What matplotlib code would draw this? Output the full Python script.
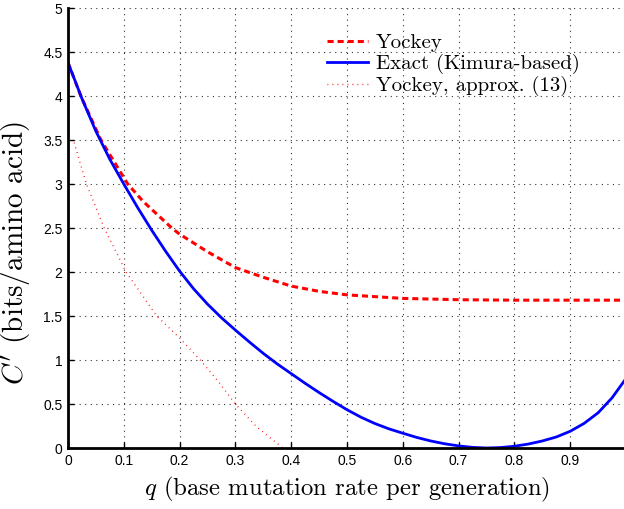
import matplotlib
matplotlib.use('Agg')
import matplotlib.pyplot as plt

plt.rcParams['mathtext.fontset'] = 'cm'
plt.rcParams['axes.unicode_minus'] = False

# values
q_exact = [0.0, 0.025, 0.05, 0.075, 0.1, 0.125, 0.15, 0.175, 0.2, 0.225, 0.25, 0.275,
           0.3, 0.325, 0.35, 0.375, 0.4, 0.425, 0.45, 0.475, 0.5, 0.525, 0.55, 0.575,
           0.6, 0.625, 0.65, 0.675, 0.7, 0.725, 0.75, 0.775, 0.8, 0.825, 0.85, 0.875,
           0.9, 0.925, 0.95, 0.975, 1.0]
c_exact = [4.38, 3.97, 3.60, 3.28, 3.0, 2.73, 2.475, 2.235, 2.01, 1.81, 1.635, 1.48,
           1.34, 1.205, 1.075, 0.955, 0.845, 0.735, 0.63, 0.53, 0.435, 0.35, 0.278, 0.218,
           0.168, 0.12, 0.08, 0.048, 0.024, 0.007, 0.0, 0.005, 0.02, 0.045, 0.08, 0.125,
           0.19, 0.28, 0.40, 0.57, 0.79]

q_yockey = [0.0, 0.023, 0.059, 0.107, 0.135, 0.186, 0.2, 0.25, 0.3, 0.35, 0.4,
            0.45, 0.5, 0.6, 0.7, 0.8, 0.9, 1.0]
c_yockey = [4.38, 4.0, 3.5, 3.0, 2.8, 2.5, 2.43, 2.23, 2.05, 1.94, 1.84,
            1.78, 1.74, 1.70, 1.685, 1.68, 1.68, 1.68]

q_approx = [0.011, 0.033, 0.065, 0.104, 0.159, 0.2, 0.237, 0.27, 0.3, 0.338, 0.385]
c_approx = [3.47, 3.0, 2.5, 2.0, 1.5, 1.25, 1.0, 0.75, 0.5, 0.24, 0.0]

xticks = [0, 0.1, 0.2, 0.3, 0.4, 0.5, 0.6, 0.7, 0.8, 0.9]
xticklabels = ['0', '0.1', '0.2', '0.3', '0.4', '0.5', '0.6', '0.7', '0.8', '0.9']
yticks = [0, 0.5, 1, 1.5, 2, 2.5, 3, 3.5, 4, 4.5, 5]
yticklabels = ['0', '0.5', '1', '1.5', '2', '2.5', '3', '3.5', '4', '4.5', '5']

fig = plt.figure(figsize=(6.24, 5.09), dpi=100)
ax = fig.add_axes([68 / 624, 61 / 509, 558 / 624, 440 / 509])

ax.plot(q_yockey, c_yockey, color='red', lw=2.2, ls=(0, (2.0, 1.3)), label='Yockey')
ax.plot(q_exact, c_exact, color='blue', lw=2.0, label='Exact (Kimura-based)')
ax.plot(q_approx, c_approx, color='red', lw=1.0, ls=(0, (0.6, 3.0)), label='Yockey, approx. (13)')

ax.set_xlim(0, 1)
ax.set_ylim(0, 5)
ax.set_xticks(xticks)
ax.set_xticklabels(xticklabels, family='Liberation Sans', fontsize=10)
ax.set_yticks(yticks)
ax.set_yticklabels(yticklabels, family='Liberation Sans', fontsize=10)
ax.tick_params(direction='in', length=4, width=1, pad=4)
ax.grid(True, color='#333333', ls=(0, (1, 4)), lw=0.8)

for s in ['top', 'right']:
    ax.spines[s].set_visible(False)
for s in ['left', 'bottom']:
    ax.spines[s].set_linewidth(2)

ax.set_xlabel("$q$ (base mutation rate per generation)", family='cmr10', fontsize=17.8, labelpad=5)
ax.set_ylabel("$C'$ (bits/amino acid)", family='cmr10', fontsize=21)
ax.yaxis.set_label_coords(-0.062, 0.443)

leg = ax.legend(loc='upper left', bbox_to_anchor=(0.43, 0.985), frameon=False,
                prop={'family': 'cmr10', 'size': 15}, handlelength=2.0,
                labelspacing=0.1, handletextpad=0.35)

fig.savefig('out.png', dpi=100)
